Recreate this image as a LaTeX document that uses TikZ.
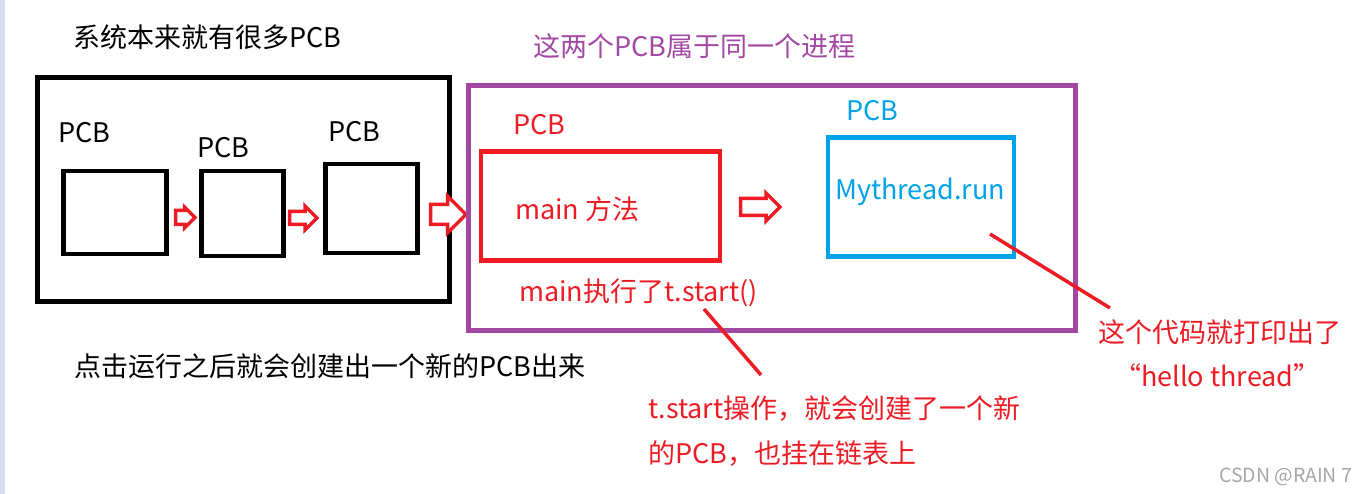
\documentclass[tikz,border=0pt]{standalone}
\usepackage{fontspec}
\setmainfont{Noto Sans CJK SC}
\usetikzlibrary{shapes.arrows}
\definecolor{pred}{HTML}{ED1C24}
\definecolor{ppurple}{HTML}{A349A4}
\definecolor{pblue}{HTML}{00A2E8}
\definecolor{pstrip}{HTML}{D7DFEE}
\begin{document}
\begin{tikzpicture}[x=1pt,y=-1pt,
  txt/.style={anchor=base west, inner sep=0pt, font=\fontsize{27}{31}\selectfont},
  box/.style={draw, line width=4.5pt, inner sep=0pt},
  parrow/.style={single arrow, draw=pred, line width=3.5pt, fill=white,
     single arrow head indent=0pt, anchor=west, inner xsep=0pt},
  link/.style={draw=pred, line width=3.5pt}]
\useasboundingbox (0,0) rectangle (1369,494);
\fill[white] (0,0) rectangle (1369,494);
\fill[pstrip] (0,0) rectangle (5,494);

% left system box
\draw[line width=5pt] (37.5,77.5) rectangle (449.5,301.5);
\node[txt] (t1) at (73,48) {系统本来就有很多PCB};
\node[box, minimum width=103pt, minimum height=83pt, anchor=north west] (b1) at (61,169) {};
\node[box, minimum width=82pt, minimum height=85pt, anchor=north west] (b2) at (199,169) {};
\node[box, minimum width=92pt, minimum height=89pt, anchor=north west] (b3) at (323,162) {};
\node[txt] (p1) at (58,143) {PCB};
\node[txt] (p2) at (197,158) {PCB};
\node[txt] (p3) at (328,142) {PCB};

\node[parrow, inner ysep=5.25pt, single arrow head extend=3.5pt, minimum height=19.5pt] (a1) at (173.75,217.5) {};
\node[parrow, inner ysep=4.75pt, single arrow head extend=5.5pt, minimum height=27.5pt] (a2) at (287.75,218) {};
\node[parrow, inner ysep=8.25pt, single arrow head extend=8.5pt, minimum height=35.5pt] (a3) at (428.75,214.5) {};

% process box
\draw[ppurple, line width=5pt] (468.5,85.5) rectangle (1075.5,330.5);
\node[txt, text=ppurple] (t2) at (533,57) {这两个PCB属于同一个进程};
\node[box, draw=pred, minimum width=239pt, minimum height=109pt, anchor=north west] (rb) at (478.5,149.5) {};
\node[txt, text=pred] (rp) at (513,135) {PCB};
\node[txt, text=pred] (rm) at (515,220) {main 方法};
\node[parrow, inner ysep=6.75pt, single arrow head extend=5.5pt, minimum height=39.5pt] (a4) at (738.75,207) {};
\node[box, draw=pblue, minimum width=186pt, minimum height=119pt, anchor=north west] (bb) at (825.5,135.5) {};
\node[txt, text=pblue] (bp) at (846,121) {PCB};
\node[txt, text=pblue] (bm) at (835,200) {Mythread.run};
\node[txt, text=pred] (ms) at (519,302) {main执行了t.start()};

% annotations
\coordinate (l1a) at (990,234);
\coordinate (l1b) at (1110,308);
\coordinate (l2a) at (704,309);
\coordinate (l2b) at (761,375);
\draw[link] (l1a) -- (l1b);
\draw[link] (l2a) -- (l2b);
\node[txt, text=pred] (n1) at (1098,343) {这个代码就打印出了};
\node[txt, text=pred] (n2) at (1114,387) {“hello thread”};
\node[txt, text=pred] (n3) at (648,418) {t.start操作，就会创建了一个新};
\node[txt, text=pred] (n4) at (648,463) {的PCB，也挂在链表上};
\node[txt] (t3) at (74,377) {点击运行之后就会创建出一个新的PCB出来};
\node[anchor=base west, inner sep=0pt, text=black!35, font=\fontsize{19.5}{22}\selectfont] (wm) at (1219,482) {CSDN @RAIN 7};
\end{tikzpicture}
\end{document}
